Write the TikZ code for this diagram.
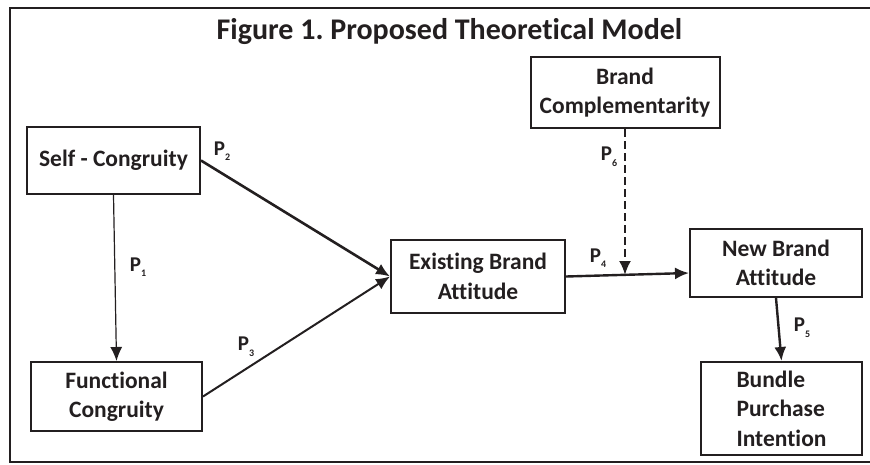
\documentclass[tikz,border=0pt]{standalone}
\usepackage{fontspec}
\setmainfont{Carlito}[Ligatures=NoCommon]
\frenchspacing
\usetikzlibrary{arrows, arrows.meta, positioning}
\definecolor{inkgray}{RGB}{35, 31, 32}

\newcommand{\plab}[1]{P\raisebox{-0.55ex}{\fontsize{10}{10}\selectfont #1}}

\tikzset{
    varbox/.style={draw=inkgray, line width=2pt, inner sep=0pt, align=center,
        font=\fontsize{23.5}{29.5}\selectfont\bfseries, text=inkgray},
    relarrow/.style={draw=inkgray, -{Latex[length=14pt, width=12pt]}},
    plabel/.style={font=\fontsize{21}{21}\selectfont\bfseries, text=inkgray, inner sep=0pt}
}

\begin{document}
\begin{tikzpicture}[x=1pt, y=-1pt]
    \useasboundingbox (0,0) rectangle (870,464);
    \clip (0,0) rectangle (870,464);
    \draw[inkgray, line width=2pt] (10,8) rectangle (880,462);

    \node[font=\fontsize{30}{30}\selectfont\bfseries, text=inkgray] (title) at (449.5,32) {Figure 1. Proposed Theoretical Model};

    % constructs
    \node[varbox, minimum width=173pt, minimum height=67pt] (selfc) at (113.5,160.5) {Self - Congruity};
    \node[varbox, minimum width=171pt, minimum height=69pt] (func) at (116.5,396.5) {Functional\\Congruity};
    \node[varbox, minimum width=174pt, minimum height=73pt] (exist) at (478,276.5) {Existing Brand\\Attitude};
    \node[varbox, minimum width=172pt, minimum height=68pt] (newb) at (776,263) {New Brand\\Attitude};
    \node[varbox, minimum width=161pt, minimum height=93pt, align=left] (bundle) at (781.5,408.5) {Bundle\\Purchase\\Intention};
    \node[varbox, minimum width=189pt, minimum height=71pt] (compl) at (625,92.5) {Brand\\Complementarity};

    \coordinate (p4mid) at (625,275);

    % paths
    \draw[relarrow, line width=1.2pt] (selfc.south) -- (func.north);
    \draw[relarrow, line width=2.6pt] (selfc.east) -- (exist.west);
    \draw[relarrow, line width=2pt] (func.east) -- (exist.west);
    \draw[relarrow, line width=2.4pt] (exist.east) -- ([yshift=-10pt]newb.west);
    \draw[relarrow, line width=2.4pt] (newb.south) -- (bundle.north);
    \draw[relarrow, line width=2.4pt, dash pattern=on 8pt off 4pt] (compl.south) -- (p4mid);

    % labels
    \node[plabel] (l1) at (138,267) {\plab{1}};
    \node[plabel] (l2) at (222,151) {\plab{2}};
    \node[plabel] (l3) at (246,347) {\plab{3}};
    \node[plabel] (l4) at (598,258) {\plab{4}};
    \node[plabel] (l5) at (802,328) {\plab{5}};
    \node[plabel] (l6) at (609,157) {\plab{6}};
\end{tikzpicture}
\end{document}
